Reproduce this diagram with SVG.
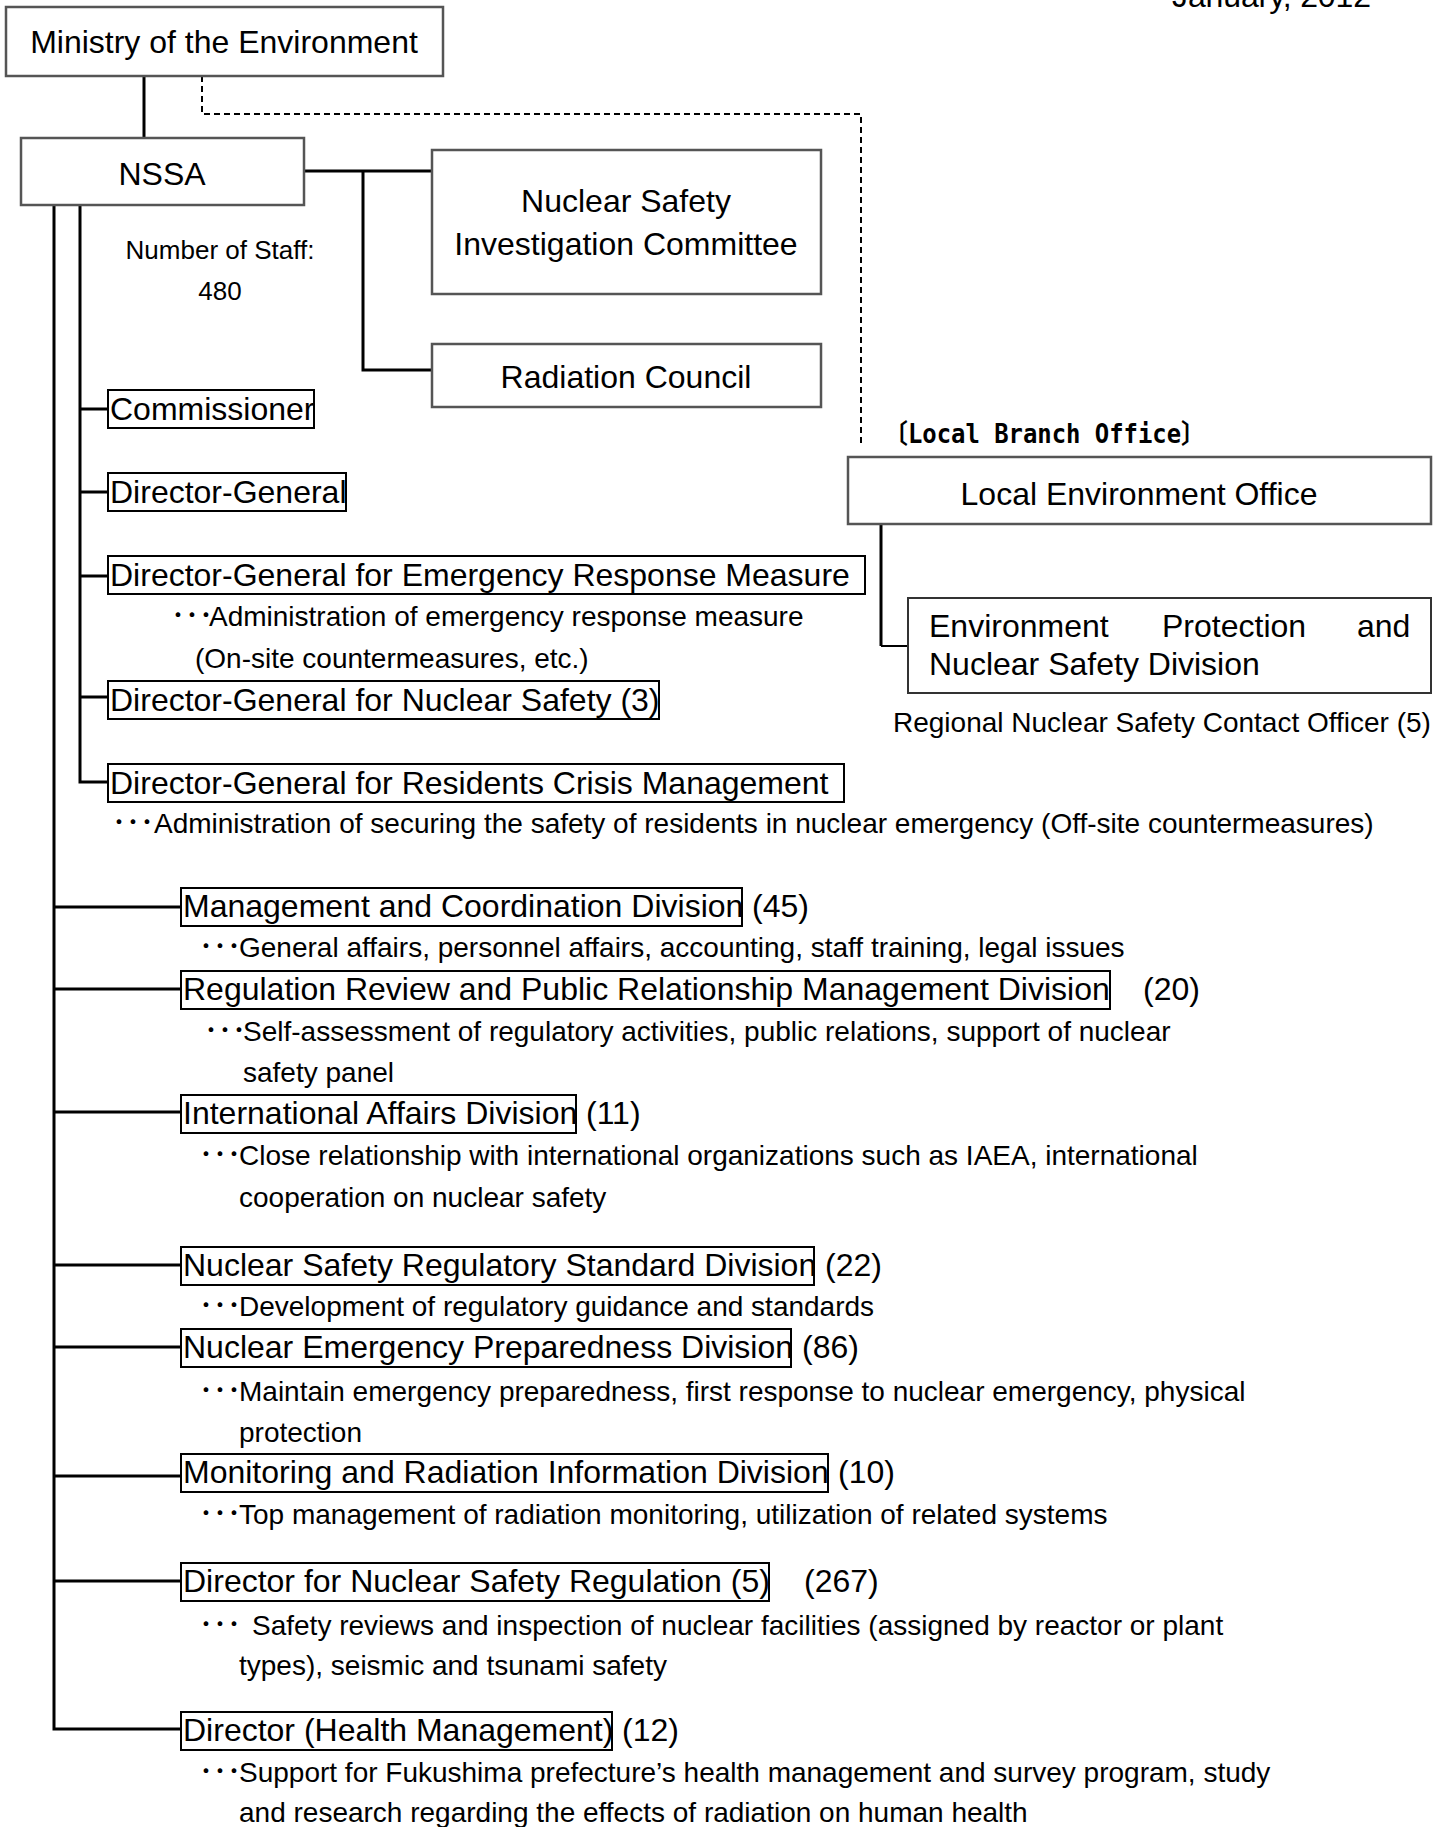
<svg xmlns="http://www.w3.org/2000/svg" width="1447" height="1827" viewBox="0 0 1447 1827">
<style>
.bg{fill:#fff}
.box{fill:#fff;stroke:#000;stroke-width:2}
.gbox{fill:#fff;stroke:#555;stroke-width:2.5}
.ln{stroke:#000;stroke-width:3;fill:none}
.dash{stroke:#000;stroke-width:2;stroke-dasharray:6 4;fill:none}
.t{font-family:"Liberation Sans",Arial,"Noto Sans CJK JP",sans-serif;font-size:32px;fill:#000}
.s{font-size:28px}
.n{font-size:26px}
.c{text-anchor:middle}
.mono{font-family:"DejaVu Sans Mono","Liberation Mono","Noto Sans CJK JP",monospace;font-weight:bold;font-size:27px;fill:#000}
</style>
<rect class="bg" x="0" y="0" width="1447" height="1827"/>
<text class="t" x="1172" y="7" textLength="199">January, 2012</text>

<g id="connectors">
  <path class="ln" d="M144 76V138"/>
  <path class="dash" d="M202 76V114H861V443"/>
  <path class="ln" d="M304 171H432M363 171V370H432"/>
  <path class="ln" d="M54 205V1729H181"/>
  <path class="ln" d="M80 205V782H108M80 409H108M80 492H108M80 576H108M80 697H108"/>
  <path class="ln" d="M54 907H181M54 989H181M54 1112H181M54 1265H181M54 1347H181M54 1476H181M54 1581H181"/>
  <path class="ln" d="M881 524V646"/>
  <path class="ln" style="stroke-width:2" d="M881 646H908"/>
</g>

<g id="ministry">
  <rect class="gbox" x="6" y="7" width="437" height="69"/>
  <text class="t c" x="224" y="53">Ministry of the Environment</text>
</g>
<g id="nssa">
  <rect class="gbox" x="21" y="138" width="283" height="67"/>
  <text class="t c" x="162" y="185">NSSA</text>
  <text class="t n c" x="220" y="259">Number of Staff:</text>
  <text class="t n c" x="220" y="300">480</text>
</g>
<g id="nsic">
  <rect class="gbox" x="432" y="150" width="389" height="144"/>
  <text class="t c" x="626" y="212">Nuclear Safety</text>
  <text class="t c" x="626" y="255">Investigation Committee</text>
</g>
<g id="radiation-council">
  <rect class="gbox" x="432" y="344" width="389" height="63"/>
  <text class="t c" x="626" y="388">Radiation Council</text>
</g>

<g id="local-branch">
  <text class="mono" x="884" y="443" textLength="321" lengthAdjust="spacingAndGlyphs">〔Local Branch Office〕</text>
</g>
<g id="leo">
  <rect class="gbox" x="848" y="457" width="583" height="67"/>
  <text class="t c" x="1139" y="505">Local Environment Office</text>
</g>
<g id="epnsd">
  <rect class="box" x="908" y="598" width="523" height="95" style="stroke:#333"/>
  <text class="t" x="929" y="637">Environment<tspan x="1162">Protection</tspan><tspan x="1357">and</tspan></text>
  <text class="t" x="929" y="675">Nuclear Safety Division</text>
  <text class="t s" x="893" y="732">Regional Nuclear Safety Contact Officer (5)</text>
</g>

<g id="commissioner">
  <rect class="box" x="108" y="390" width="206" height="38"/>
  <text class="t" x="110" y="420">Commissioner</text>
</g>
<g id="director-general">
  <rect class="box" x="108" y="473" width="238" height="38"/>
  <text class="t" x="110" y="503">Director-General</text>
</g>
<g id="dg-emergency">
  <rect class="box" x="108" y="556" width="757" height="38"/>
  <text class="t" x="110" y="586">Director-General for Emergency Response Measure</text>
  <text class="t s" x="171" y="626">･･･<tspan x="209">Administration of emergency response measure</tspan></text>
  <text class="t s" x="195" y="668">(On-site countermeasures, etc.)</text>
</g>
<g id="dg-nuclear-safety">
  <rect class="box" x="108" y="681" width="551" height="38"/>
  <text class="t" x="110" y="711">Director-General for Nuclear Safety (3)</text>
</g>
<g id="dg-residents">
  <rect class="box" x="108" y="764" width="736" height="38"/>
  <text class="t" x="110" y="794">Director-General for Residents Crisis Management</text>
  <text class="t s" x="112" y="833">･･･<tspan x="154">Administration of securing the safety of residents in nuclear emergency (Off-site countermeasures)</tspan></text>
</g>

<g id="management-coordination">
  <rect class="box" x="181" y="888" width="561" height="38"/>
  <text class="t" x="183" y="917">Management and Coordination Division<tspan x="752">(45)</tspan></text>
  <text class="t s" x="199" y="957">･･･<tspan x="239">General affairs, personnel affairs, accounting, staff training, legal issues</tspan></text>
</g>
<g id="regulation-review">
  <rect class="box" x="181" y="971" width="929" height="38"/>
  <text class="t" x="183" y="1000">Regulation Review and Public Relationship Management Division<tspan x="1143">(20)</tspan></text>
  <text class="t s" x="204" y="1041">･･･<tspan x="243">Self-assessment of regulatory activities, public relations, support of nuclear</tspan></text>
  <text class="t s" x="243" y="1082">safety panel</text>
</g>
<g id="international-affairs">
  <rect class="box" x="181" y="1095" width="395" height="38"/>
  <text class="t" x="183" y="1124">International Affairs Division<tspan x="586">(11)</tspan></text>
  <text class="t s" x="199" y="1165">･･･<tspan x="239">Close relationship with international organizations such as IAEA, international</tspan></text>
  <text class="t s" x="239" y="1207">cooperation on nuclear safety</text>
</g>
<g id="regulatory-standard">
  <rect class="box" x="181" y="1247" width="633" height="38"/>
  <text class="t" x="183" y="1276">Nuclear Safety Regulatory Standard Division<tspan x="825">(22)</tspan></text>
  <text class="t s" x="199" y="1316">･･･<tspan x="239">Development of regulatory guidance and standards</tspan></text>
</g>
<g id="emergency-preparedness">
  <rect class="box" x="181" y="1329" width="610" height="38"/>
  <text class="t" x="183" y="1358">Nuclear Emergency Preparedness Division<tspan x="802">(86)</tspan></text>
  <text class="t s" x="199" y="1401">･･･<tspan x="239">Maintain emergency preparedness, first response to nuclear emergency, physical</tspan></text>
  <text class="t s" x="239" y="1442">protection</text>
</g>
<g id="monitoring">
  <rect class="box" x="181" y="1454" width="647" height="38"/>
  <text class="t" x="183" y="1483">Monitoring and Radiation Information Division<tspan x="838">(10)</tspan></text>
  <text class="t s" x="199" y="1524">･･･<tspan x="239">Top management of radiation monitoring, utilization of related systems</tspan></text>
</g>
<g id="safety-regulation">
  <rect class="box" x="181" y="1563" width="588" height="38"/>
  <text class="t" x="183" y="1592">Director for Nuclear Safety Regulation (5)<tspan x="804">(267)</tspan></text>
  <text class="t s" x="199" y="1635">･･･<tspan x="252">Safety reviews and inspection of nuclear facilities (assigned by reactor or plant</tspan></text>
  <text class="t s" x="239" y="1675">types), seismic and tsunami safety</text>
</g>
<g id="health-management">
  <rect class="box" x="181" y="1712" width="431" height="38"/>
  <text class="t" x="183" y="1741">Director (Health Management)<tspan x="622">(12)</tspan></text>
  <text class="t s" x="199" y="1782">･･･<tspan x="239">Support for Fukushima prefecture’s health management and survey program, study</tspan></text>
  <text class="t s" x="239" y="1822">and research regarding the effects of radiation on human health</text>
</g>
</svg>
